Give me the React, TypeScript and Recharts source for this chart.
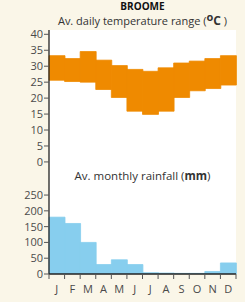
import { BarChart, Bar, XAxis, YAxis } from 'recharts';

const months = ['J', 'F', 'M', 'A', 'M', 'J', 'J', 'A', 'S', 'O', 'N', 'D'];
const tempMin = [25.6, 25.2, 25.0, 22.7, 20.2, 15.9, 14.9, 15.9, 20.2, 22.3, 23.0, 24.1];
const tempMax = [33.3, 32.4, 34.6, 31.9, 30.2, 29.0, 28.4, 29.5, 31.0, 31.6, 32.4, 33.3];
const rainfall = [180, 160, 100, 30, 45, 30, 4, 3, 2, 2, 8, 35];
const tempTicks = [0, 5, 10, 15, 20, 25, 30, 35, 40];
const rainTicks = [0, 50, 100, 150, 200, 250];

const tempData = months.map((m, i) => ({ month: m, range: [tempMin[i], tempMax[i]] }));
const rainData = months.map((m, i) => ({ month: m, rain: rainfall[i] }));

if (typeof document !== 'undefined') document.body.style.margin = '0';

const FONT = '"Open Sans", "Noto Sans", sans-serif';
const tickStyle = { fill: '#4a4a4a', fontSize: 11, fontFamily: FONT };
const BAND = 187 / 12;

function MonthTick(props: any) {
  const { x, y, payload, index } = props;
  return (
    <g>
      <line x1={x - BAND / 2} x2={x - BAND / 2} y1={y} y2={y + 5} stroke="#555" />
      {index === 11 && <line x1={x + BAND / 2} x2={x + BAND / 2} y1={y} y2={y + 5} stroke="#555" />}
      <text x={x} y={y + 19} textAnchor="middle" {...tickStyle}>
        {payload.value}
      </text>
    </g>
  );
}

export default function App() {
  return (
    <div style={{ position: 'relative', width: 245, height: 302, background: '#FAF6E8', fontFamily: FONT }}>
      <div style={{ position: 'absolute', left: 49, top: 30, width: 187, height: 244, background: '#fff' }} />
      <div style={{ position: 'absolute', left: 49, width: 187, top: 0, textAlign: 'center', fontSize: 10, fontWeight: 700, color: '#111', lineHeight: '12px' }}>
        BROOME
      </div>
      <div style={{ position: 'absolute', left: 40, width: 205, top: 13, textAlign: 'center', fontSize: 11, color: '#333', lineHeight: '16px' }}>
        Av. daily temperature range (<span style={{ fontWeight: 700, position: 'relative', top: -4 }}>o</span><span style={{ fontWeight: 700, fontSize: 12 }}>C</span> )
      </div>
      <div style={{ position: 'absolute', left: 49, width: 187, top: 168, textAlign: 'center', fontSize: 11.5, color: '#333', lineHeight: '16px' }}>
        Av. monthly rainfall (<b>mm</b>)
      </div>

      <div style={{ position: 'absolute', left: 0, top: 0 }}>
        <BarChart width={245} height={302} data={tempData} barCategoryGap={0} barGap={0}
          margin={{ top: 30, right: 9, bottom: 112, left: 0 }}>
          <XAxis dataKey="month" hide />
          <YAxis
            type="number"
            domain={[-8.8, 41.35]}
            allowDataOverflow
            ticks={tempTicks}
            width={49}
            tick={tickStyle}
            tickSize={5}
            tickMargin={1}
            tickLine={{ stroke: '#555' }}
            axisLine={{ stroke: '#222', strokeWidth: 1.3 }}
            interval={0}
          />
          <Bar dataKey="range" fill="#EF8A00" stroke="#EF8A00" strokeWidth={0.8} isAnimationActive={false} />
        </BarChart>
      </div>

      <div style={{ position: 'absolute', left: 0, top: 0 }}>
        <BarChart width={245} height={302} data={rainData} barCategoryGap={0} barGap={0}
          margin={{ top: 190, right: 9, bottom: 0, left: 0 }}>
          <XAxis
            dataKey="month"
            height={28}
            interval={0}
            tickSize={0}
            tickMargin={0}
            tickLine={false}
            axisLine={{ stroke: '#222', strokeWidth: 1.3 }}
            tick={<MonthTick />}
          />
          <YAxis
            type="number"
            domain={[0, 266]}
            allowDataOverflow
            ticks={rainTicks}
            width={49}
            tick={tickStyle}
            tickSize={5}
            tickMargin={1}
            tickLine={{ stroke: '#555' }}
            axisLine={{ stroke: '#222', strokeWidth: 1.3 }}
            interval={0}
          />
          <Bar dataKey="rain" fill="#87CEEE" stroke="#87CEEE" strokeWidth={0.8} isAnimationActive={false} />
        </BarChart>
      </div>
    </div>
  );
}
